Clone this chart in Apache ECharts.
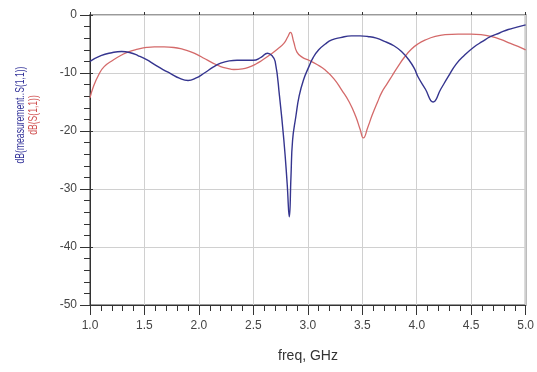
<!DOCTYPE html>
<html><head><meta charset="utf-8">
<script src="https://cdn.jsdelivr.net/npm/echarts@6/dist/echarts.min.js"></script>
<style>html,body{margin:0;padding:0;background:#fff}#c{width:537px;height:372px}</style>
</head><body><div id="c"></div>
<script>
var freqMeas = [1.0,1.1,1.2,1.29,1.37,1.44,1.52,1.59,1.67,1.74,1.82,1.9,1.97,2.05,2.13,2.2,2.28,2.35,2.43,2.5,2.57,2.63,2.67,2.7,2.74,2.78,2.81,2.83,2.845,2.86,2.89,2.92,2.96,3.01,3.05,3.1,3.16,3.22,3.3,3.4,3.48,3.55,3.63,3.71,3.79,3.86,3.93,3.98,4.01,4.08,4.15,4.22,4.29,4.36,4.44,4.52,4.6,4.68,4.76,4.84,4.92,5.0];
var dbMeas = [-8.0,-7.0,-6.5,-6.3,-6.5,-7.0,-7.7,-8.5,-9.4,-10.1,-10.9,-11.3,-10.9,-10.0,-9.0,-8.3,-7.9,-7.8,-7.8,-7.8,-7.3,-6.6,-7.0,-8.0,-14,-21.6,-29,-34.8,-28,-21.6,-17.5,-14,-11.2,-8.9,-7.3,-6.0,-5.0,-4.3,-3.9,-3.6,-3.6,-3.7,-4.0,-4.6,-5.3,-6.3,-7.8,-9.3,-10.6,-12.8,-15.0,-12.8,-10.6,-8.5,-6.9,-5.6,-4.6,-3.7,-3.1,-2.5,-2.1,-1.7];
var freqSim = [1.0,1.03,1.08,1.13,1.21,1.29,1.36,1.44,1.52,1.59,1.68,1.77,1.85,1.92,1.98,2.05,2.12,2.2,2.26,2.32,2.4,2.46,2.52,2.58,2.65,2.72,2.78,2.815,2.84,2.87,2.9,2.95,3.01,3.08,3.16,3.24,3.31,3.38,3.44,3.48,3.51,3.55,3.59,3.64,3.68,3.73,3.77,3.83,3.89,3.95,4.01,4.08,4.17,4.26,4.38,4.5,4.59,4.68,4.77,4.86,4.93,5.0];
var dbSim = [-14.3,-12.4,-10.3,-8.9,-7.8,-6.9,-6.3,-5.9,-5.6,-5.5,-5.5,-5.6,-5.9,-6.3,-6.8,-7.5,-8.2,-8.9,-9.2,-9.4,-9.3,-9.0,-8.5,-7.8,-6.9,-5.9,-4.9,-3.8,-3.0,-4.6,-6.4,-7.3,-7.8,-8.5,-9.5,-11.0,-12.9,-15.0,-17.5,-19.7,-21.2,-19.4,-17.3,-15.0,-13.3,-11.8,-10.6,-8.8,-7.2,-5.9,-5.0,-4.3,-3.7,-3.4,-3.3,-3.3,-3.4,-3.7,-4.2,-4.9,-5.4,-6.0];
var xTickLabels = ['1.0','1.5','2.0','2.5','3.0','3.5','4.0','4.5','5.0'];
var yTickLabels = ['-50','-40','-30','-20','-10','0'];
var xTitle = 'freq, GHz';
var yTitleMeas = 'dB(measurement..S(1,1))';
var yTitleSim = 'dB(S(1,1))';

function pairs(xs, ys){ return xs.map(function(x,i){ return [x, ys[i]]; }); }
var font = 'Liberation Sans, Arial, sans-serif';
var chart = echarts.init(document.getElementById('c'));
var axisCommon = {
  axisLine:{show:true, onZero:false, lineStyle:{color:'#333', width:1}},
  axisTick:{show:true, inside:false, length:10, lineStyle:{color:'#333'}},
  splitLine:{show:true, lineStyle:{color:'#d0d0d0', width:1}},
  minorSplitLine:{show:false}
};
chart.setOption({
  animation:false,
  grid:{left:90, right:9, top:15, bottom:67, show:true, borderColor:'#9a9a9a', borderWidth:2},
  xAxis:[Object.assign({}, axisCommon, {
    type:'value', min:1, max:5, interval:0.5,
    minorTick:{show:true, splitNumber:5, length:6, lineStyle:{color:'#333'}},
    axisLabel:{color:'#444', fontSize:12, fontFamily:font, margin:15,
      formatter:function(v){ var i=Math.round((v-1)/0.5); return xTickLabels[i]; }}
  }),{
    type:'value', min:1, max:5, interval:0.5, position:'bottom',
    axisLine:{show:false}, axisTick:{show:true, inside:true, length:3, lineStyle:{color:'#333'}},
    axisLabel:{show:false}, splitLine:{show:false}
  }],
  yAxis:[Object.assign({}, axisCommon, {
    type:'value', min:-50, max:0, interval:10,
    minorTick:{show:true, splitNumber:5, length:6, lineStyle:{color:'#333'}},
    axisLabel:{color:'#444', fontSize:12, fontFamily:font, margin:13,
      formatter:function(v){ var i=Math.round((v+50)/10); return yTickLabels[i]; }}
  }),{
    type:'value', min:-50, max:0, interval:10, position:'left',
    axisLine:{show:false}, axisTick:{show:true, inside:true, length:3, lineStyle:{color:'#333'}},
    axisLabel:{show:false}, splitLine:{show:false}
  }],
  graphic:[
    {type:'text', x:308, y:349, style:{text:xTitle, fill:'#333', font:'14px '+font, align:'center', verticalAlign:'top'}},
    {type:'text', x:14, y:115, rotation:Math.PI/2, scaleX:0.66, scaleY:1, style:{text:yTitleMeas, fill:'#34349a', font:'13px '+font, align:'center', verticalAlign:'top'}},
    {type:'text', x:27, y:115, rotation:Math.PI/2, scaleX:0.66, scaleY:1, style:{text:yTitleSim, fill:'#d05050', font:'13px '+font, align:'center', verticalAlign:'top'}}
  ],
  series:[
    {type:'line', data:pairs(freqSim, dbSim), showSymbol:false, smooth:0.5,
      lineStyle:{color:'#d46a6a', width:1.3}},
    {type:'line', data:pairs(freqMeas, dbMeas), showSymbol:false, smooth:0.5,
      lineStyle:{color:'#35358f', width:1.4}}
  ]
});
</script></body></html>
